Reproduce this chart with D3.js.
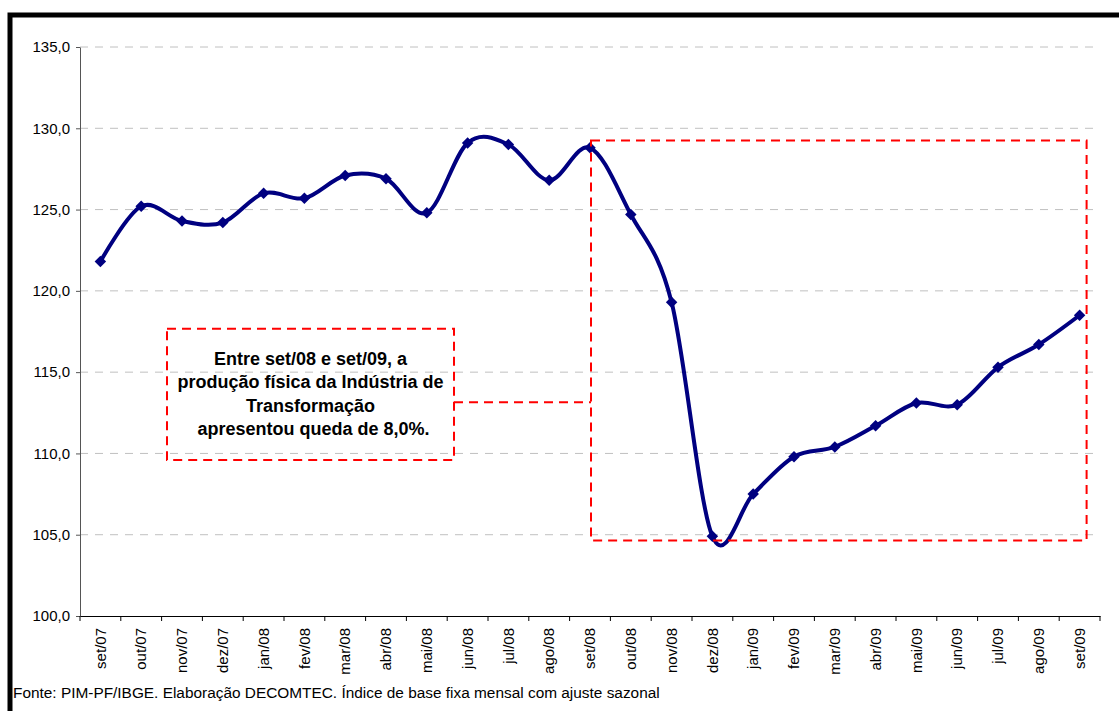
<!DOCTYPE html>
<html>
<head>
<meta charset="utf-8">
<script src="https://cdn.jsdelivr.net/npm/d3@7"></script>
<style>
  body { margin: 0; background: #fff; }
  svg { display: block; font-family: Arial, "Liberation Sans", sans-serif; }
</style>
</head>
<body>
<div id="chart"></div>
<script>
const months = ["set/07", "out/07", "nov/07", "dez/07", "jan/08", "fev/08", "mar/08", "abr/08", "mai/08",
                "jun/08", "jul/08", "ago/08", "set/08", "out/08", "nov/08", "dez/08", "jan/09", "fev/09",
                "mar/09", "abr/09", "mai/09", "jun/09", "jul/09", "ago/09", "set/09"]
const values = [121.8, 125.2, 124.3, 124.2, 126.0, 125.7, 127.1, 126.9, 124.8,
                129.1, 129.0, 126.8, 128.8, 124.7, 119.3, 104.9, 107.5, 109.8,
                110.4, 111.7, 113.1, 113.0, 115.3, 116.7, 118.5]
const yTicks = [100, 105, 110, 115, 120, 125, 130, 135]
const noteLines = ["Entre set/08 e set/09, a", "produção física da Indústria de", "Transformação", "apresentou queda de 8,0%."]
const source = "Fonte: PIM-PF/IBGE. Elaboração DECOMTEC. Índice de base fixa mensal com ajuste sazonal"

const width = 1119, height = 711
const plotLeft = 80, plotRight = 1100, plotTop = 47, plotBottom = 616

const xScale = d3.scaleBand()
                 .domain(months)
                 .range([plotLeft, plotRight])
const yScale = d3.scaleLinear()
                 .domain([100, 135])
                 .range([plotBottom, plotTop])
const cx = m => xScale(m) + xScale.bandwidth() / 2

const svg = d3.select("#chart")
              .append("svg")
              .attr("width", width)
              .attr("height", height)

// outer frame (cut by the page edge on the right and bottom)
svg.append("rect")
   .attr("x", 10).attr("y", 15)
   .attr("width", width + 20).attr("height", height + 20)
   .attr("fill", "none")
   .attr("stroke", "#000")
   .attr("stroke-width", 5)

// gridlines
svg.append("g")
   .selectAll("line")
   .data(yTicks.slice(1))
   .join("line")
   .attr("x1", plotLeft).attr("x2", plotRight)
   .attr("y1", d => yScale(d)).attr("y2", d => yScale(d))
   .attr("stroke", "#c0c0c0")
   .attr("stroke-dasharray", "8,7")

// y axis
const yAxis = d3.axisLeft(yScale)
                .tickValues(yTicks)
                .tickSize(4)
                .tickSizeOuter(0)
                .tickFormat(d => d3.format(".1f")(d).replace(".", ","))
const gy = svg.append("g")
   .attr("transform", "translate(" + plotLeft + ",0)")
   .call(yAxis)
gy.select(".domain").attr("stroke", "#555")
gy.selectAll(".tick line").attr("stroke", "#555")
gy.selectAll("text")
  .attr("font-size", 15)
  .attr("font-family", "Arial, 'Liberation Sans', sans-serif")
  .attr("fill", "#000")
  .attr("x", -10)

// x axis: labels at category centres, ticks at category boundaries
const xAxis = d3.axisBottom(xScale).tickSize(0).tickSizeOuter(0)
const gx = svg.append("g")
   .attr("transform", "translate(0," + plotBottom + ")")
   .call(xAxis)
gx.select(".domain").attr("stroke", "#000")
gx.selectAll("text")
  .attr("font-size", 15)
  .attr("font-family", "Arial, 'Liberation Sans', sans-serif")
  .attr("fill", "#000")
  .attr("transform", "rotate(-90)")
  .attr("text-anchor", "end")
  .attr("x", -12)
  .attr("y", 0)
  .attr("dy", "0.35em")
gx.selectAll(".bound")
  .data(months.map(m => xScale(m)).concat([plotRight]))
  .join("line")
  .attr("class", "bound")
  .attr("x1", d => d).attr("x2", d => d)
  .attr("y1", 0).attr("y2", 5)
  .attr("stroke", "#000")

// series
const line = d3.line()
               .x((d, i) => cx(months[i]))
               .y(d => yScale(d))
               .curve(d3.curveCardinal.tension(0))
svg.append("path")
   .datum(values)
   .attr("d", line)
   .attr("fill", "none")
   .attr("stroke", "#000080")
   .attr("stroke-width", 4)

svg.append("g")
   .selectAll("path")
   .data(values)
   .join("path")
   .attr("d", d3.symbol(d3.symbolSquare, 66))
   .attr("transform", (d, i) => "translate(" + cx(months[i]) + "," + yScale(d) + ") rotate(45)")
   .attr("fill", "#000080")

// annotations
const red = g => g.attr("fill", "none").attr("stroke", "#ff0000").attr("stroke-width", 2).attr("stroke-dasharray", "9,6")
const boxL = cx("set/08") + 1, boxR = cx("set/09") + 7
svg.append("rect")
   .attr("x", boxL).attr("y", yScale(129.25))
   .attr("width", boxR - boxL).attr("height", yScale(104.65) - yScale(129.25))
   .call(red)

const noteL = 167, noteR = 454
svg.append("rect")
   .attr("x", noteL).attr("y", yScale(117.67))
   .attr("width", noteR - noteL).attr("height", yScale(109.6) - yScale(117.67))
   .call(red)
svg.append("line")
   .attr("x1", noteR).attr("x2", boxL)
   .attr("y1", yScale(113.15)).attr("y2", yScale(113.15))
   .call(red)

svg.append("g")
   .selectAll("text")
   .data(noteLines)
   .join("text")
   .attr("x", (d, i) => (noteL + noteR) / 2 + (i === 3 ? 3 : 0))
   .attr("y", (d, i) => 365 + i * 23.3)
   .attr("text-anchor", "middle")
   .attr("font-size", 18)
   .attr("font-weight", "bold")
   .text(d => d)

svg.append("text")
   .attr("x", 13)
   .attr("y", 698)
   .attr("font-size", 15.4)
   .text(source)
</script>
</body>
</html>
